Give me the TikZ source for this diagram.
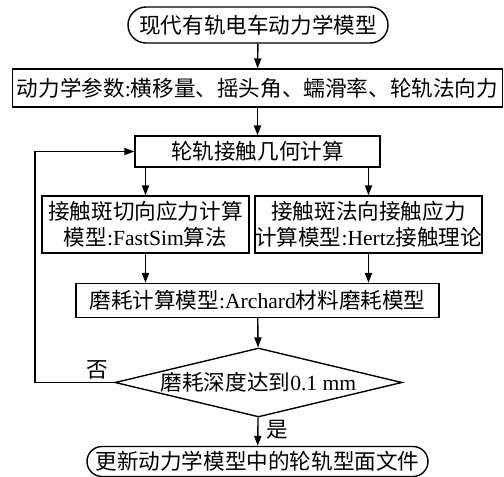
\documentclass[tikz,border=0pt]{standalone}
\usepackage{fontspec}
\setmainfont{Liberation Serif}
\newfontfamily\cjk{Noto Sans CJK SC}
\usetikzlibrary{shapes.geometric,shapes.misc,arrows.meta}
\newcommand{\zh}[1]{{\cjk #1}}

\begin{document}
\begin{tikzpicture}[x=0.5pt,y=-0.5pt,line width=0.7pt,
    font=\fontsize{10.8}{12.8}\selectfont,
    >={Triangle[length=5pt,width=3.6pt]},
    box/.style={draw,rectangle,inner sep=0pt,align=center},
    term/.style={draw,rounded rectangle,inner sep=0pt},
    decision/.style={draw,diamond,aspect=4.16,inner sep=0pt}]

    \useasboundingbox (0,0) rectangle (504,477);

    % Nodi
    \node[term,minimum width=130pt,minimum height=18pt] (start) at (258,25) {\zh{现代有轨电车动力学模型}};
    \node[box,minimum width=245pt,minimum height=19pt] (param) at (257.5,88)
        {\zh{动力学参数}:\zh{横移量、摇头角、蠕滑率、轮轨法向力}};
    \node[box,minimum width=122.5pt,minimum height=15.5pt] (geom) at (257.5,151.5) {\zh{轮轨接触几何计算}};
    \node[box,minimum width=103.5pt,minimum height=28.5pt] (tang) at (145.5,224.5)
        {\zh{接触斑切向应力计算}\\\zh{模型}:FastSim\zh{算法}};
    \node[box,minimum width=113.5pt,minimum height=28.5pt] (norm) at (368.5,224.5)
        {\zh{接触斑法向接触应力}\\\zh{计算模型}:Hertz\zh{接触理论}};
    \node[box,minimum width=181.5pt,minimum height=17pt] (wear) at (257.5,300.5)
        {\zh{磨耗计算模型}:Archard\zh{材料磨耗模型}};
    \node[decision,minimum width=143.5pt,minimum height=34.5pt] (check) at (258.5,382.5)
        {\zh{磨耗深度达到}0.1 mm};
    \node[term,minimum width=170.5pt,minimum height=15pt] (update) at (257.5,461.5)
        {\zh{更新动力学模型中的轮轨型面文件}};

    % Etichette
    \node (no) at (97,370) {\zh{否}};
    \node (yes) at (277,430) {\zh{是}};

    % Frecce
    \draw[->] (start) -- (param);
    \draw[->] (param) -- (geom);
    \draw[->] (geom.south -| tang) -- (tang);
    \draw[->] (geom.south -| norm) -- (norm);
    \draw[->] (tang) -- (tang |- wear.north);
    \draw[->] (norm) -- (norm |- wear.north);
    \draw[->] (wear) -- (check);
    \draw[->] (check) -- (update);

    % Ritorno
    \coordinate (loop) at (35,0);
    \draw[->] (check.west) -- (check.west -| loop) -- (geom.west -| loop) -- (geom.west);

\end{tikzpicture}
\end{document}
